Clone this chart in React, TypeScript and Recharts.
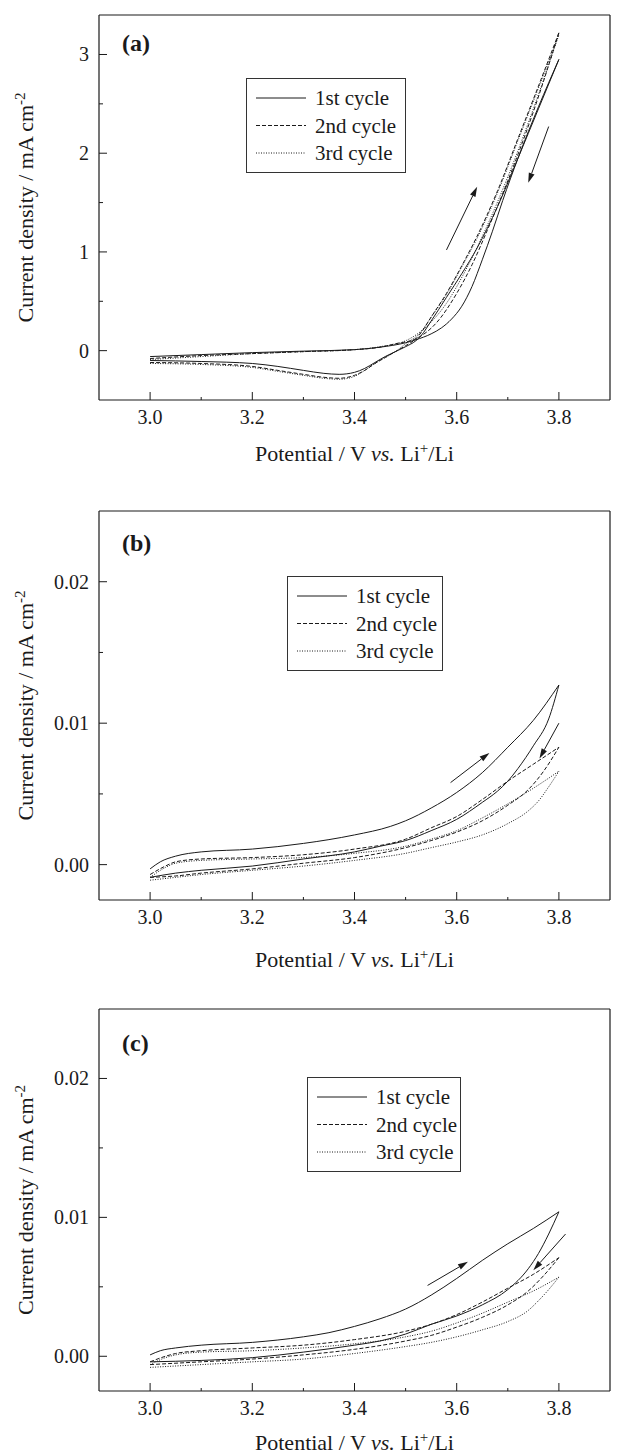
import React from 'react';
import { LineChart, Line, XAxis, YAxis, ReferenceLine, Legend } from 'recharts';

// potential (V vs. Li+/Li), current density (mA cm-2); each cycle = anodic sweep + cathodic sweep
const a1Fwd = [[3.0, -0.06], [3.1, -0.04], [3.2, -0.02], [3.3, -0.005], [3.4, 0.01], [3.45, 0.035], [3.5, 0.08], [3.52, 0.11], [3.55, 0.17], [3.57, 0.23], [3.59, 0.32], [3.61, 0.45], [3.63, 0.65], [3.65, 0.92], [3.67, 1.21], [3.69, 1.52], [3.72, 1.95], [3.76, 2.47], [3.8, 2.95]];
const a1Rev = [[3.8, 2.95], [3.76, 2.45], [3.72, 1.95], [3.68, 1.46], [3.64, 1.04], [3.61, 0.78], [3.58, 0.54], [3.55, 0.3], [3.53, 0.15], [3.52, 0.1], [3.5, 0.04], [3.48, -0.01], [3.46, -0.06], [3.44, -0.12], [3.42, -0.18], [3.4, -0.22], [3.37, -0.24], [3.34, -0.23], [3.3, -0.2], [3.25, -0.16], [3.2, -0.13], [3.1, -0.11], [3.0, -0.1]];
const a2Fwd = [[3.0, -0.08], [3.1, -0.05], [3.2, -0.03], [3.3, -0.01], [3.4, 0.01], [3.45, 0.035], [3.48, 0.07], [3.52, 0.12], [3.56, 0.28], [3.6, 0.58], [3.63, 0.87], [3.66, 1.22], [3.7, 1.72], [3.75, 2.42], [3.8, 3.22]];
const a2Rev = [[3.8, 3.22], [3.76, 2.68], [3.72, 2.15], [3.68, 1.62], [3.64, 1.16], [3.61, 0.86], [3.58, 0.58], [3.55, 0.34], [3.53, 0.18], [3.52, 0.12], [3.5, 0.05], [3.48, -0.01], [3.46, -0.07], [3.44, -0.13], [3.42, -0.2], [3.4, -0.25], [3.37, -0.28], [3.34, -0.27], [3.3, -0.24], [3.25, -0.2], [3.2, -0.16], [3.1, -0.13], [3.0, -0.12]];
const a3Fwd = [[3.0, -0.09], [3.1, -0.06], [3.2, -0.03], [3.3, -0.01], [3.4, 0.01], [3.45, 0.04], [3.5, 0.1], [3.54, 0.24], [3.58, 0.48], [3.62, 0.84], [3.66, 1.27], [3.7, 1.76], [3.75, 2.45], [3.8, 3.2]];
const a3Rev = [[3.8, 3.2], [3.76, 2.66], [3.72, 2.13], [3.68, 1.6], [3.64, 1.14], [3.61, 0.85], [3.58, 0.57], [3.55, 0.34], [3.53, 0.19], [3.5, 0.07], [3.48, -0.01], [3.46, -0.07], [3.44, -0.13], [3.42, -0.2], [3.4, -0.26], [3.37, -0.29], [3.34, -0.28], [3.3, -0.25], [3.25, -0.21], [3.2, -0.17], [3.1, -0.14], [3.0, -0.13]];

const b1Fwd = [[3.0, -0.0003], [3.02, 0.0002], [3.05, 0.0006], [3.1, 0.0009], [3.2, 0.0011], [3.3, 0.0015], [3.4, 0.0021], [3.47, 0.0027], [3.5, 0.0031], [3.55, 0.004], [3.6, 0.0051], [3.65, 0.0065], [3.7, 0.0083], [3.75, 0.0102], [3.8, 0.0127]];
const b1Rev = [[3.8, 0.0127], [3.78, 0.0103], [3.75, 0.0084], [3.72, 0.0068], [3.7, 0.0059], [3.68, 0.0052], [3.65, 0.0044], [3.6, 0.0032], [3.55, 0.0024], [3.5, 0.0017], [3.45, 0.0013], [3.4, 0.0009], [3.3, 0.0004], [3.2, -0.0001], [3.1, -0.0004], [3.05, -0.0006], [3.0, -0.0009]];
const b2Fwd = [[3.0, -0.0007], [3.03, -0.0001], [3.05, 0.0002], [3.1, 0.0004], [3.2, 0.0005], [3.3, 0.0007], [3.4, 0.0011], [3.5, 0.0018], [3.55, 0.0026], [3.6, 0.0034], [3.65, 0.0046], [3.7, 0.0059], [3.75, 0.0071], [3.8, 0.0083]];
const b2Rev = [[3.8, 0.0083], [3.77, 0.0066], [3.74, 0.0053], [3.7, 0.0042], [3.65, 0.0031], [3.6, 0.0023], [3.55, 0.0017], [3.5, 0.0012], [3.4, 0.0005], [3.3, 0.0001], [3.2, -0.0003], [3.1, -0.0006], [3.05, -0.0008], [3.0, -0.0009]];
const b3Fwd = [[3.0, -0.0009], [3.03, -0.0002], [3.05, 0.0001], [3.1, 0.0003], [3.2, 0.0004], [3.3, 0.0005], [3.4, 0.0008], [3.5, 0.0013], [3.55, 0.0018], [3.6, 0.0024], [3.65, 0.0033], [3.7, 0.0043], [3.75, 0.0054], [3.8, 0.0066]];
const b3Rev = [[3.8, 0.0066], [3.78, 0.0055], [3.76, 0.0045], [3.74, 0.0038], [3.7, 0.0029], [3.65, 0.0021], [3.6, 0.0016], [3.55, 0.0012], [3.5, 0.0008], [3.4, 0.0003], [3.3, -0.0001], [3.2, -0.0004], [3.1, -0.0007], [3.05, -0.0009], [3.0, -0.0011]];

const c1Fwd = [[3.0, 0.0001], [3.02, 0.0004], [3.05, 0.0006], [3.1, 0.0008], [3.2, 0.001], [3.3, 0.0014], [3.35, 0.0017], [3.4, 0.00215], [3.45, 0.0027], [3.5, 0.0034], [3.55, 0.0044], [3.6, 0.0056], [3.65, 0.0069], [3.7, 0.0081], [3.75, 0.0092], [3.8, 0.0104]];
const c1Rev = [[3.8, 0.0104], [3.78, 0.0088], [3.76, 0.0074], [3.74, 0.0063], [3.7, 0.0048], [3.65, 0.0037], [3.6, 0.0029], [3.55, 0.0023], [3.5, 0.0016], [3.45, 0.0011], [3.4, 0.0008], [3.3, 0.0003], [3.2, -0.0001], [3.1, -0.0003], [3.0, -0.0004]];
const c2Fwd = [[3.0, -0.0004], [3.03, 0.0], [3.05, 0.0002], [3.1, 0.0004], [3.2, 0.0006], [3.3, 0.0008], [3.4, 0.0012], [3.5, 0.0018], [3.55, 0.0023], [3.6, 0.003], [3.65, 0.0039], [3.7, 0.0049], [3.75, 0.0059], [3.8, 0.0071]];
const c2Rev = [[3.8, 0.0071], [3.77, 0.0058], [3.74, 0.0047], [3.7, 0.0037], [3.65, 0.0028], [3.6, 0.0021], [3.55, 0.0015], [3.5, 0.0011], [3.4, 0.0005], [3.3, 0.0001], [3.2, -0.0002], [3.1, -0.0004], [3.0, -0.0006]];
const c3Fwd = [[3.0, -0.0006], [3.03, -0.0001], [3.05, 0.0001], [3.1, 0.0003], [3.2, 0.0004], [3.3, 0.0006], [3.4, 0.0009], [3.5, 0.0014], [3.55, 0.0018], [3.6, 0.0024], [3.65, 0.0031], [3.7, 0.0039], [3.75, 0.0047], [3.8, 0.0057]];
const c3Rev = [[3.8, 0.0057], [3.78, 0.0048], [3.76, 0.004], [3.74, 0.0033], [3.7, 0.0025], [3.65, 0.0019], [3.6, 0.0014], [3.55, 0.001], [3.5, 0.0007], [3.4, 0.0002], [3.3, -0.0002], [3.2, -0.0004], [3.1, -0.0006], [3.0, -0.0008]];

// scan direction arrows: [start, end]
const aArrows = [[[3.58, 1.02], [3.64, 1.66]], [[3.78, 2.27], [3.74, 1.7]]];
const bArrows = [[[3.588, 0.0058], [3.664, 0.0079]], [[3.8, 0.01], [3.762, 0.0075]]];
const cArrows = [[[3.543, 0.0051], [3.622, 0.0068]], [[3.813, 0.0088], [3.75, 0.0062]]];

const cycleNames = ['1st cycle', '2nd cycle', '3rd cycle'];
const cycleDash = ['0', '4 2', '1 1.5'];

const xTicks = [3.0, 3.1, 3.2, 3.3, 3.4, 3.5, 3.6, 3.7, 3.8];
const aYTicks = [0, 0.5, 1, 1.5, 2, 2.5, 3];
const bcYTicks = [0, 0.005, 0.01, 0.015, 0.02];

const FONT = '"Liberation Serif", "Times New Roman", serif';
const INK = '#1a1a1a';

// each sweep drawn as its own smooth branch, points sorted by potential
const toPts = (branch: number[][]) =>
  [...branch].sort((p, q) => p[0] - q[0]).map(([x, y]) => ({ x, y }));

const xLabel = (v: number) => (Math.round(v * 10) % 2 === 0 ? v.toFixed(1) : null);
const aLabel = (v: number) => (Number.isInteger(v) ? String(v) : null);
const bcLabel = (v: number) => (Math.round(v * 1000) % 10 === 0 ? v.toFixed(2) : null);

function makeTick(side: string, fmt: ((v: number) => string | null) | null, majorLen: number, minorLen: number) {
  return (p: any) => {
    const v = p.payload.value;
    const text = fmt ? fmt(v) : null;
    const major = fmt ? text !== null : true;
    const len = major ? majorLen : minorLen;
    const { x, y } = p;
    let line: any = null;
    let label: any = null;
    if (side === 'bottom') {
      line = <line x1={x} x2={x} y1={y} y2={y - len} stroke={INK} />;
      if (text) label = <text x={x} y={y + 24} textAnchor="middle" fontSize={20} fontFamily={FONT} fill={INK}>{text}</text>;
    } else if (side === 'top') {
      line = <line x1={x} x2={x} y1={y} y2={y + len} stroke={INK} />;
    } else if (side === 'left') {
      line = <line x1={x} x2={x + len} y1={y} y2={y} stroke={INK} />;
      if (text) label = <text x={x - 10} y={y + 7} textAnchor="end" fontSize={20} fontFamily={FONT} fill={INK}>{text}</text>;
    } else {
      line = <line x1={x} x2={x - len} y1={y} y2={y} stroke={INK} />;
    }
    return <g>{line}{label}</g>;
  };
}

function Arrow(p: any) {
  const { x1, y1, x2, y2 } = p;
  const ang = Math.atan2(y2 - y1, x2 - x1);
  const L = 10;
  const W = 3;
  const bx = x2 - L * Math.cos(ang);
  const by = y2 - L * Math.sin(ang);
  const nx = -Math.sin(ang) * W;
  const ny = Math.cos(ang) * W;
  return (
    <g>
      <line x1={x1} y1={y1} x2={bx} y2={by} stroke={INK} strokeWidth={1} />
      <path d={`M${x2},${y2} L${bx + nx},${by + ny} L${bx - nx},${by - ny} Z`} fill={INK} />
    </g>
  );
}

function LegendBox({ w }: { w: number }) {
  return (
    <div style={{ width: w, height: 95, border: '1px solid #333', boxSizing: 'border-box', background: '#fff' }}>
      <svg width={w - 2} height={93} style={{ display: 'block' }}>
        {cycleNames.map((n, i) => (
          <g key={n}>
            <line x1={9} x2={59} y1={19 + i * 27.5} y2={19 + i * 27.5} stroke={INK} strokeDasharray={cycleDash[i]} />
            <text x={68} y={26 + i * 27.5} fontSize={21} fontFamily={FONT} fill={INK}>{n}</text>
          </g>
        ))}
      </svg>
    </div>
  );
}

type PanelProps = {
  tag: string;
  height: number;
  top: number;
  plotH: number;
  yDomain: number[];
  yTicks: number[];
  yFmt: (v: number) => string | null;
  cycles: number[][][][];
  arrows: number[][][];
  legendLeft: number;
  legendTop: number;
  legendW: number;
  tagY: number;
  titleDy: number;
};

function Panel(props: PanelProps) {
  const { tag, height, top, plotH, yDomain, yTicks, yFmt, cycles, arrows, legendLeft, legendTop, legendW, tagY, titleDy } = props;
  const bottomH = height - top - plotH;
  return (
    <LineChart width={620} height={height} margin={{ top: 0, right: 0, bottom: 0, left: 0 }}>
      <XAxis
        xAxisId="b"
        dataKey="x"
        type="number"
        domain={[2.9, 3.9]}
        ticks={xTicks}
        height={bottomH}
        tickSize={0}
        tickMargin={0}
        tickLine={false}
        axisLine={{ stroke: INK, strokeWidth: 1.2 }}
        tick={makeTick('bottom', xLabel, 8, 3)}
        label={{
          content: (lp: any) => {
            const vb = lp.viewBox;
            return (
              <text x={vb.x + vb.width / 2} y={vb.y + titleDy} textAnchor="middle" fontSize={22} fontFamily={FONT} fill={INK}>
                Potential / V <tspan fontStyle="italic">vs.</tspan> Li<tspan dy={-8} fontSize={15}>+</tspan><tspan dy={8}>/Li</tspan>
              </text>
            );
          },
        }}
      />
      <XAxis
        xAxisId="t"
        orientation="top"
        type="number"
        domain={[2.9, 3.9]}
        ticks={xTicks}
        height={top}
        tickSize={0}
        tickMargin={0}
        tickLine={false}
        axisLine={{ stroke: INK, strokeWidth: 1.2 }}
        tick={makeTick('top', null, 3, 3)}
      />
      <YAxis
        yAxisId="l"
        type="number"
        domain={yDomain}
        ticks={yTicks}
        width={99}
        tickSize={0}
        tickMargin={0}
        tickLine={false}
        axisLine={{ stroke: INK, strokeWidth: 1.2 }}
        tick={makeTick('left', yFmt, 8, 4)}
        label={{
          content: (lp: any) => {
            const vb = lp.viewBox;
            const cy = vb.y + vb.height / 2;
            return (
              <text x={33} y={cy} transform={`rotate(-90, 33, ${cy})`} textAnchor="middle" fontSize={22} fontFamily={FONT} fill={INK}>
                Current density / mA cm<tspan dy={-8} fontSize={15}>-2</tspan>
              </text>
            );
          },
        }}
      />
      <YAxis
        yAxisId="r"
        orientation="right"
        type="number"
        domain={yDomain}
        ticks={yTicks}
        width={10}
        tickSize={0}
        tickMargin={0}
        tickLine={false}
        axisLine={{ stroke: INK, strokeWidth: 1.2 }}
        tick={makeTick('right', null, 3, 3)}
      />
      {cycles.map((branches, i) =>
        branches.map((br, j) => (
          <Line
            key={`${cycleNames[i]}-${j}`}
            xAxisId="b"
            yAxisId="l"
            data={toPts(br)}
            dataKey="y"
            name={cycleNames[i]}
            type="monotone"
            stroke={INK}
            strokeWidth={1}
            strokeDasharray={cycleDash[i]}
            dot={false}
            activeDot={false}
            isAnimationActive={false}
          />
        ))
      )}
      {arrows.map(([s, e], i) => (
        <ReferenceLine
          key={i}
          xAxisId="b"
          yAxisId="l"
          segment={[{ x: s[0], y: s[1] }, { x: e[0], y: e[1] }]}
          shape={Arrow}
          ifOverflow="visible"
        />
      ))}
      <text x={122} y={tagY} fontSize={24} fontWeight="bold" fontFamily={FONT} fill={INK}>{tag}</text>
      <Legend
        layout="vertical"
        align="center"
        verticalAlign="middle"
        content={() => <LegendBox w={legendW} />}
        wrapperStyle={{ position: 'absolute', left: legendLeft, top: legendTop, width: legendW, height: 95 }}
      />
    </LineChart>
  );
}

export default function App() {
  return (
    <div style={{ position: 'absolute', left: 0, top: 0, width: 620, height: 1456, background: '#fff' }}>
      <Panel
        tag="(a)" height={497} top={15} plotH={385}
        yDomain={[-0.5, 3.4]} yTicks={aYTicks} yFmt={aLabel}
        cycles={[[a1Fwd, a1Rev], [a2Fwd, a2Rev], [a3Fwd, a3Rev]]}
        arrows={aArrows}
        legendLeft={246} legendTop={78} legendW={160} tagY={51} titleDy={61}
      />
      <Panel
        tag="(b)" height={499} top={14} plotH={389}
        yDomain={[-0.0025, 0.025]} yTicks={bcYTicks} yFmt={bcLabel}
        cycles={[[b1Fwd, b1Rev], [b2Fwd, b2Rev], [b3Fwd, b3Rev]]}
        arrows={bArrows}
        legendLeft={287} legendTop={79} legendW={156} tagY={54} titleDy={67}
      />
      <Panel
        tag="(c)" height={460} top={13} plotH={382}
        yDomain={[-0.0025, 0.025]} yTicks={bcYTicks} yFmt={bcLabel}
        cycles={[[c1Fwd, c1Rev], [c2Fwd, c2Rev], [c3Fwd, c3Rev]]}
        arrows={cArrows}
        legendLeft={307} legendTop={81} legendW={154} tagY={55} titleDy={59}
      />
    </div>
  );
}
